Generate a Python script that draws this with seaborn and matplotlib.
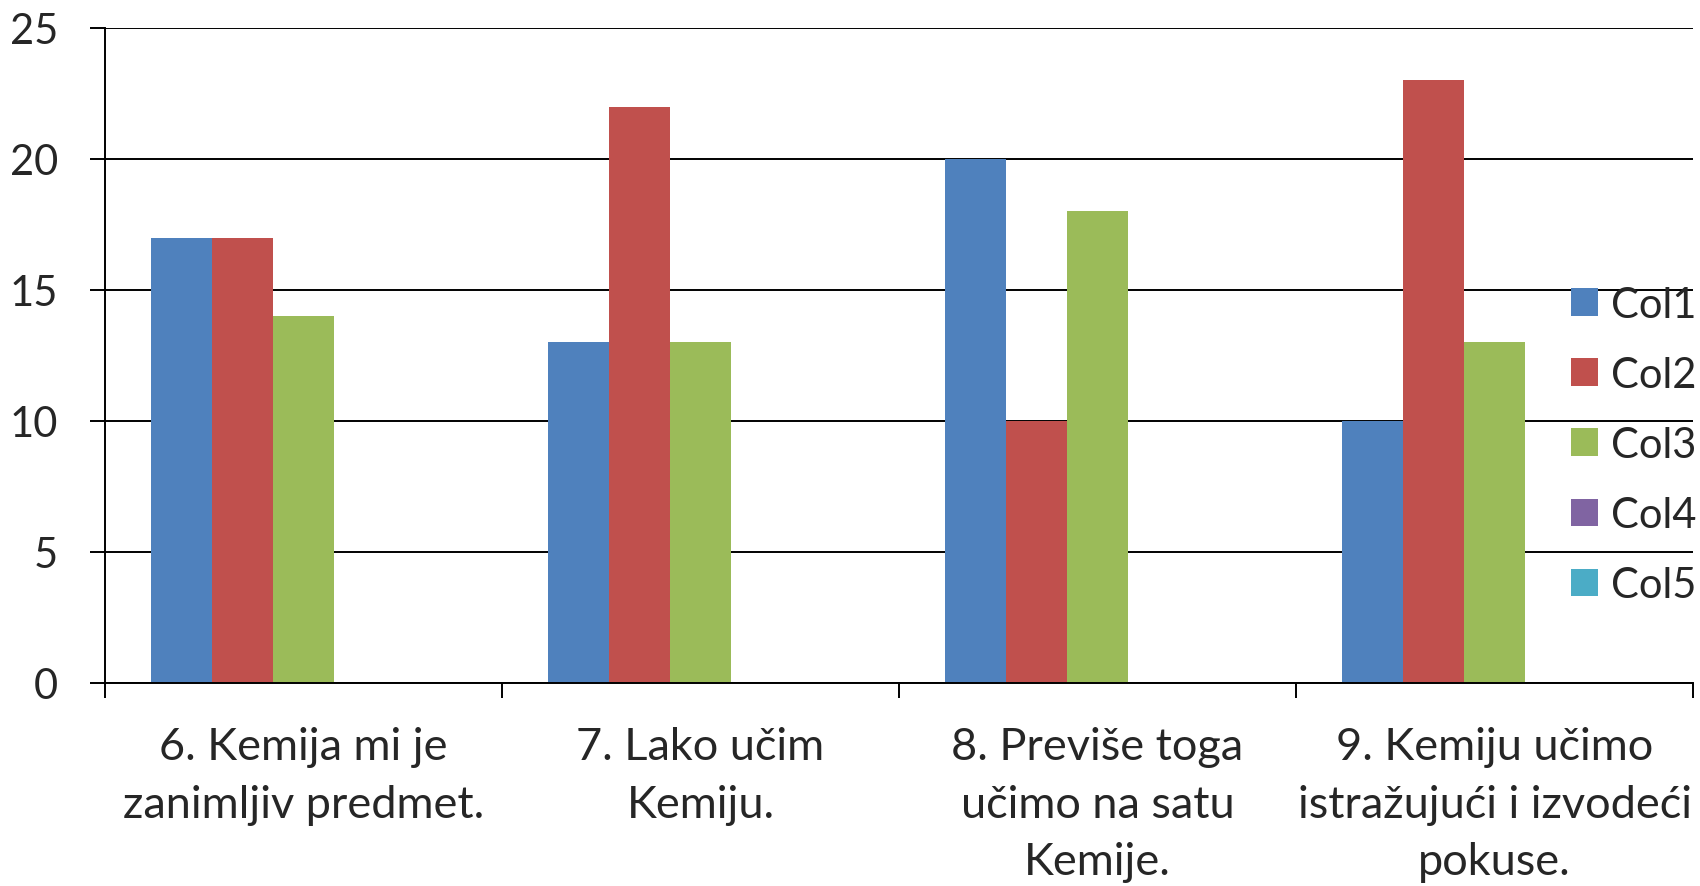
import matplotlib
matplotlib.use('Agg')
import matplotlib.pyplot as plt
import seaborn as sns
import pandas as pd

categories = ["6. Kemija mi je\nzanimljiv predmet.",
              "7. Lako učim\nKemiju.",
              "8. Previše toga\nučimo na satu\nKemije.",
              "9. Kemiju učimo\nistražujući i izvodeći\npokuse."]
series = ["Col1", "Col2", "Col3", "Col4", "Col5"]
col1 = [17, 13, 20, 10]
col2 = [17, 22, 10, 23]
col3 = [14, 13, 18, 13]
col4 = [0, 0, 0, 0]
col5 = [0, 0, 0, 0]
colors = ["#4F81BD", "#C0504D", "#9BBB59", "#8064A2", "#4BACC6"]

rows = []
for name, vals in zip(series, [col1, col2, col3, col4, col5]):
    for cat, v in zip(categories, vals):
        rows.append({"cat": cat, "series": name, "value": v})
df = pd.DataFrame(rows)

sns.set_style("white")
plt.rcParams['font.family'] = ['Lato', 'DejaVu Sans']

fig = plt.figure(figsize=(17, 8.87), dpi=100)
ax = fig.add_axes([105 / 1700, 1 - 684 / 887, 1588 / 1700, 655 / 887])

sns.barplot(data=df, x="cat", y="value", hue="series", hue_order=series,
            palette=colors, saturation=1, width=5 / 6.5, linewidth=0, ax=ax)

ax.set_xlim(-0.5, 3.5)
ax.set_ylim(0, 25)
ax.set_yticks([0, 5, 10, 15, 20, 25])
ax.set_axisbelow(True)
ax.yaxis.grid(True, color="black", linewidth=1.4)
ax.set_xlabel("")
ax.set_ylabel("")

for s in ["top", "right"]:
    ax.spines[s].set_visible(False)
for s in ["left", "bottom"]:
    ax.spines[s].set_color("black")
    ax.spines[s].set_linewidth(1.4)

# category boundary ticks
ax.set_xticks([-0.5, 0.5, 1.5, 2.5, 3.5], minor=True)
ax.tick_params(axis="x", which="major", length=0, pad=31, labelsize=32.5)
ax.tick_params(axis="x", which="minor", length=11, width=1.4, color="black", direction="out", bottom=True)
ax.tick_params(axis="y", length=11, width=1.4, color="black", direction="out", left=True, pad=23, labelsize=30)
for lbl in ax.get_xticklabels():
    lbl.set_linespacing(1.5)

ax.legend(loc="center left", bbox_to_anchor=(1571 / 1700, 1 - 446 / 887),
          bbox_transform=fig.transFigure, frameon=False, fontsize=30,
          handlelength=0.65, handleheight=0.65, handletextpad=0.31,
          labelspacing=0.77, borderpad=0, borderaxespad=0)

fig.savefig("out.png", dpi=100)
